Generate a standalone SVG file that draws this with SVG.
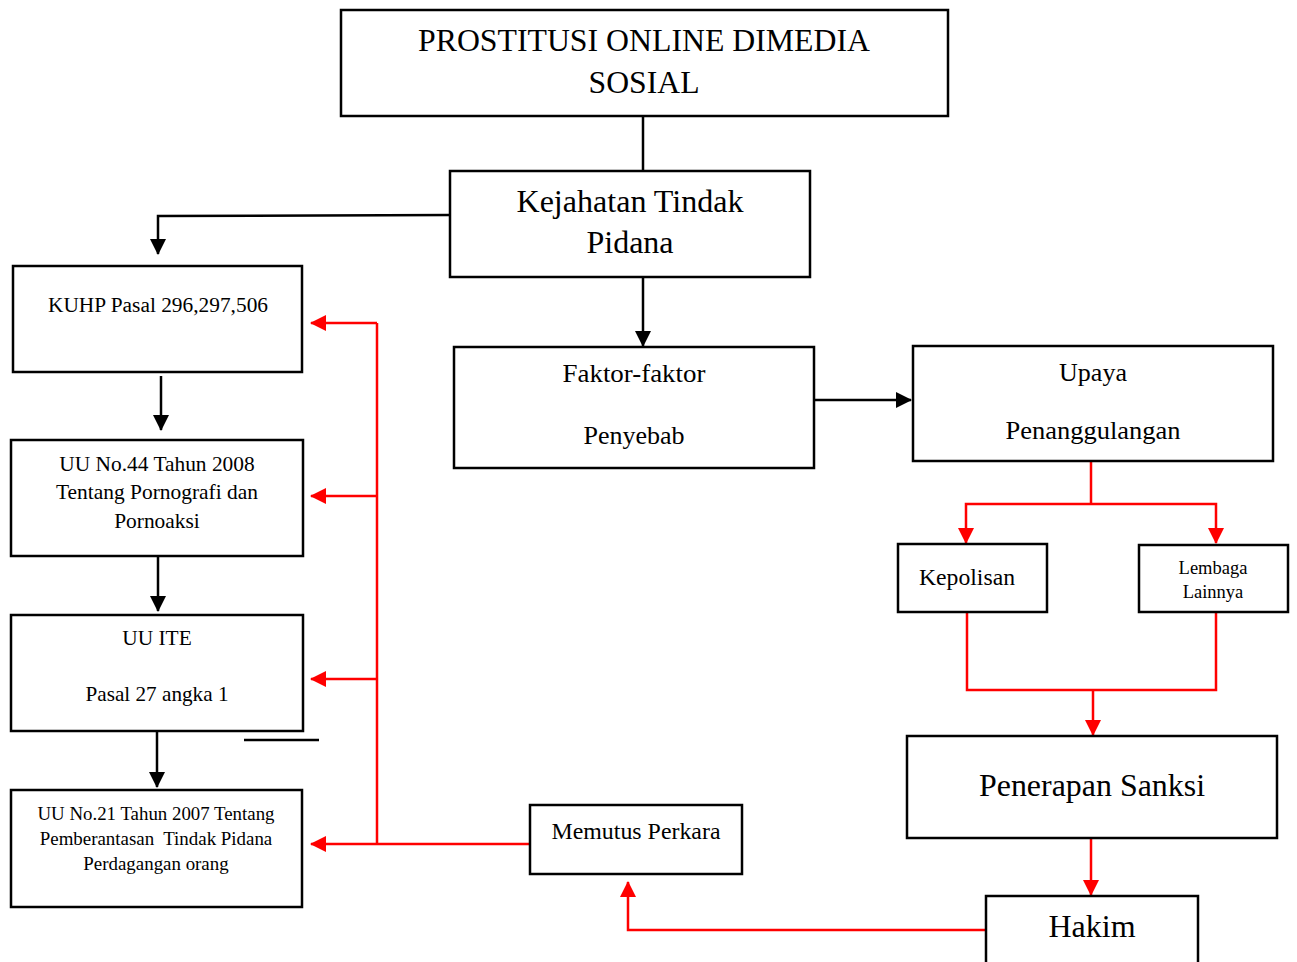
<svg xmlns="http://www.w3.org/2000/svg" width="1297" height="962" viewBox="0 0 1297 962">
<defs>
<marker id="ab" markerUnits="userSpaceOnUse" markerWidth="16" markerHeight="16" viewBox="0 0 16 16" refX="15" refY="8" orient="auto"><path d="M0,0 L16,8 L0,16 Z" fill="#000"/></marker>
<marker id="ar" markerUnits="userSpaceOnUse" markerWidth="16" markerHeight="16" viewBox="0 0 16 16" refX="15" refY="8" orient="auto"><path d="M0,0 L16,8 L0,16 Z" fill="#ff0000"/></marker>
</defs>
<style>
rect{fill:#fff;stroke:#000;stroke-width:2.5}
text{font-family:"Liberation Serif","Times New Roman",serif;fill:#000;text-anchor:middle}
.k{fill:none;stroke:#000;stroke-width:2.5}
.r{fill:none;stroke:#ff0000;stroke-width:2.5}
</style>
<rect x="0" y="0" width="1297" height="962" style="stroke:none"/>
<g id="connectors">
<path class="k" d="M643,116 V171"/>
<path class="k" d="M450,215 L158,216 V254" marker-end="url(#ab)"/>
<path class="k" d="M643,277 V346" marker-end="url(#ab)"/>
<path class="k" d="M161,376 V430" marker-end="url(#ab)"/>
<path class="k" d="M158,556 V611" marker-end="url(#ab)"/>
<path class="k" d="M157,731 V787" marker-end="url(#ab)"/>
<path class="k" d="M815,400 H911" marker-end="url(#ab)"/>
<path class="k" d="M244,740 H319"/>
<path class="r" d="M377,323 V844"/>
<path class="r" d="M377,323 H311" marker-end="url(#ar)"/>
<path class="r" d="M377,496 H311" marker-end="url(#ar)"/>
<path class="r" d="M377,679 H311" marker-end="url(#ar)"/>
<path class="r" d="M530,844 H311" marker-end="url(#ar)"/>
<path class="r" d="M986,930 H628 V882" marker-end="url(#ar)"/>
<path class="r" d="M1091,838 V895" marker-end="url(#ar)"/>
<path class="r" d="M1091,461 V504"/>
<path class="r" d="M1091,504 H966 V543" marker-end="url(#ar)"/>
<path class="r" d="M1091,504 H1216 V543" marker-end="url(#ar)"/>
<path class="r" d="M967,612 V690 H1216 V612"/>
<path class="r" d="M1093,690 V735" marker-end="url(#ar)"/>
</g>
<g id="n-prostitusi">
<rect x="341" y="10" width="607" height="106"/>
<text x="644" y="51" font-size="31" textLength="452" lengthAdjust="spacingAndGlyphs">PROSTITUSI ONLINE DIMEDIA</text>
<text x="644" y="93" font-size="31" textLength="111" lengthAdjust="spacingAndGlyphs">SOSIAL</text>
</g>
<g id="n-kejahatan">
<rect x="450" y="171" width="360" height="106"/>
<text x="630" y="212" font-size="32" textLength="227" lengthAdjust="spacingAndGlyphs">Kejahatan Tindak</text>
<text x="630" y="253" font-size="32">Pidana</text>
</g>
<g id="n-kuhp">
<rect x="13" y="266" width="289" height="106"/>
<text x="158" y="312" font-size="21.3" textLength="220" lengthAdjust="spacingAndGlyphs">KUHP Pasal 296,297,506</text>
</g>
<g id="n-uu44">
<rect x="11" y="440" width="292" height="116"/>
<text x="157" y="471" font-size="21.4">UU No.44 Tahun 2008</text>
<text x="157" y="499" font-size="21.4" textLength="202" lengthAdjust="spacingAndGlyphs">Tentang Pornografi dan</text>
<text x="157" y="528" font-size="21.4">Pornoaksi</text>
</g>
<g id="n-uuite">
<rect x="11" y="615" width="292" height="116"/>
<text x="157" y="645" font-size="21.4">UU ITE</text>
<text x="157" y="701" font-size="21.4" textLength="143" lengthAdjust="spacingAndGlyphs">Pasal 27 angka 1</text>
</g>
<g id="n-uu21">
<rect x="11" y="790" width="291" height="117"/>
<text x="156" y="820" font-size="18.9" textLength="237" lengthAdjust="spacingAndGlyphs">UU No.21 Tahun 2007 Tentang</text>
<text x="156" y="845" font-size="18.9" xml:space="preserve">Pemberantasan  Tindak Pidana</text>
<text x="156" y="870" font-size="18.9">Perdagangan orang</text>
</g>
<g id="n-faktor">
<rect x="454" y="347" width="360" height="121"/>
<text x="634" y="382" font-size="26" textLength="143" lengthAdjust="spacingAndGlyphs">Faktor-faktor</text>
<text x="634" y="444" font-size="26">Penyebab</text>
</g>
<g id="n-upaya">
<rect x="913" y="346" width="360" height="115"/>
<text x="1093" y="381" font-size="26">Upaya</text>
<text x="1093" y="439" font-size="26" textLength="175" lengthAdjust="spacingAndGlyphs">Penanggulangan</text>
</g>
<g id="n-kepolisan">
<rect x="898" y="544" width="149" height="68"/>
<text x="967" y="585" font-size="23.5" textLength="96" lengthAdjust="spacingAndGlyphs">Kepolisan</text>
</g>
<g id="n-lembaga">
<rect x="1139" y="545" width="149" height="67"/>
<text x="1213" y="574" font-size="18.5">Lembaga</text>
<text x="1213" y="598" font-size="18.5">Lainnya</text>
</g>
<g id="n-penerapan">
<rect x="907" y="736" width="370" height="102"/>
<text x="1092" y="796" font-size="32" textLength="226" lengthAdjust="spacingAndGlyphs">Penerapan Sanksi</text>
</g>
<g id="n-memutus">
<rect x="530" y="805" width="212" height="69"/>
<text x="636" y="839" font-size="23" textLength="169" lengthAdjust="spacingAndGlyphs">Memutus Perkara</text>
</g>
<g id="n-hakim">
<rect x="986" y="896" width="212" height="80"/>
<text x="1092" y="937" font-size="32">Hakim</text>
</g>
</svg>
